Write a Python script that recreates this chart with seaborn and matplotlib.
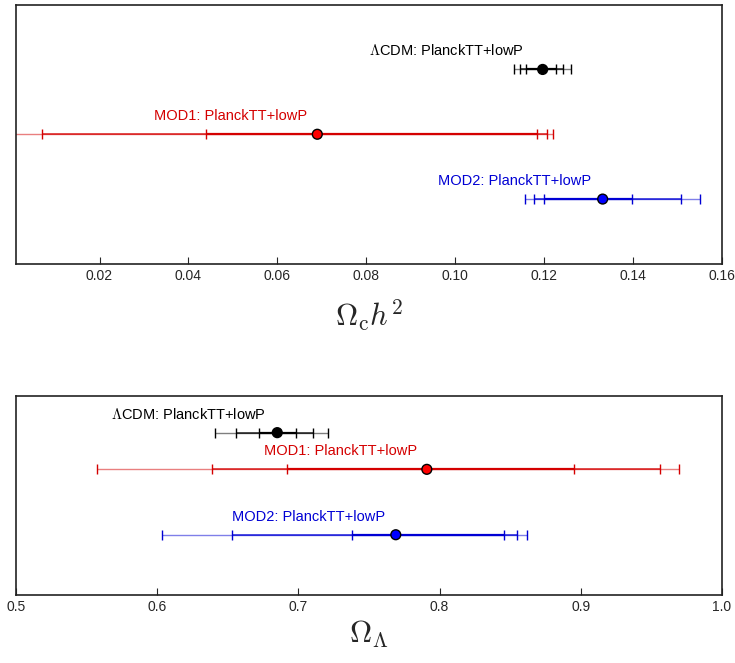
import numpy as np
import pandas as pd
import matplotlib
matplotlib.use('Agg')
import matplotlib.pyplot as plt
import seaborn as sns

sns.set_style('white')
plt.rcParams['font.family'] = ['Liberation Sans', 'DejaVu Sans']
plt.rcParams['mathtext.fontset'] = 'cm'

models = ['ΛCDM', 'MOD1', 'MOD2']
labels = ['$\\Lambda$CDM: PlanckTT+lowP', 'MOD1: PlanckTT+lowP', 'MOD2: PlanckTT+lowP']

# Omega_c h^2 : best fit and 68/95/99% bounds
och2_mid = [0.1197, 0.0690, 0.1332]
och2_lo = [[0.1160, 0.1146, 0.1133], [0.0440, 0.0071, -0.01], [0.1200, 0.1178, 0.1157]]
och2_hi = [[0.1228, 0.1243, 0.1261], [0.1185, 0.1207, 0.1220], [0.1398, 0.1509, 0.1551]]

# Omega_Lambda
ol_mid = [0.685, 0.791, 0.769]
ol_lo = [[0.672, 0.656, 0.641], [0.692, 0.6385, 0.557], [0.738, 0.653, 0.603]]
ol_hi = [[0.698, 0.710, 0.721], [0.895, 0.956, 0.970], [0.846, 0.855, 0.862]]

colors = ['black', '#d40000', '#0000d4']
fills = ['black', '#ff0000', '#0000ff']

fig = plt.figure(figsize=(7.35, 6.63), dpi=100)
ax1 = fig.add_axes([0.022, 0.602, 0.960, 0.391])
ax2 = fig.add_axes([0.022, 0.103, 0.960, 0.299])


def draw_panel(ax, mid, lo, hi, rows, label_x, xlim, xticks, ticklabels, xlabel, lpad):
    df = pd.DataFrame({'model': models, 'value': mid, 'row': rows})
    for i in range(len(models)):
        y = rows[i]
        c = colors[i]
        # 99%, 95%, 68% segments from outer to inner
        for k, (lw, a) in zip([2, 1, 0], [(1.0, 0.5), (1.2, 0.8), (1.6, 1.0)]):
            ax.hlines(y, lo[i][k], hi[i][k], color=c, lw=lw, alpha=a, zorder=2)
        ends = lo[i] + hi[i]
        ax.plot(ends, [y] * len(ends), ls='none', marker='|', ms=7, mew=1.0,
                color=c, zorder=3)
        ax.annotate(labels[i], (label_x[i], y), xytext=(0, 8), textcoords='offset points',
                    ha='center', va='bottom', color=c, fontsize=10.5)
    sns.scatterplot(data=df, x='value', y='row', hue='model', palette=fills,
                    edgecolor='black', linewidth=1, s=50, legend=False, ax=ax, zorder=4)
    ax.set_xlim(*xlim)
    ax.set_ylim(0, 4)
    ax.set_yticks([])
    ax.set_ylabel('')
    ax.set_xticks(xticks)
    ax.set_xticklabels(ticklabels, fontsize=10)
    ax.tick_params(axis='x', direction='in', length=5, bottom=True, top=False, pad=4)
    ax.set_xlabel(xlabel, fontsize=22, labelpad=lpad)
    for s in ax.spines.values():
        s.set_color('#222222')
        s.set_linewidth(1.2)


draw_panel(ax1, och2_mid, och2_lo, och2_hi, [3, 2, 1], [0.098, 0.0494, 0.1133],
           (0.00125, 0.16), [0.02, 0.04, 0.06, 0.08, 0.10, 0.12, 0.14, 0.16],
           ['0.02', '0.04', '0.06', '0.08', '0.10', '0.12', '0.14', '0.16'],
           '$\\Omega_{\\rm c} h^2$', 10)
draw_panel(ax2, ol_mid, ol_lo, ol_hi, [3.27, 2.53, 1.21], [0.622, 0.730, 0.707],
           (0.5, 1.0), [0.5, 0.6, 0.7, 0.8, 0.9, 1.0],
           ['0.5', '0.6', '0.7', '0.8', '0.9', '1.0'],
           '$\\Omega_{\\Lambda}$', 3)

fig.savefig('out.png', dpi=100)
